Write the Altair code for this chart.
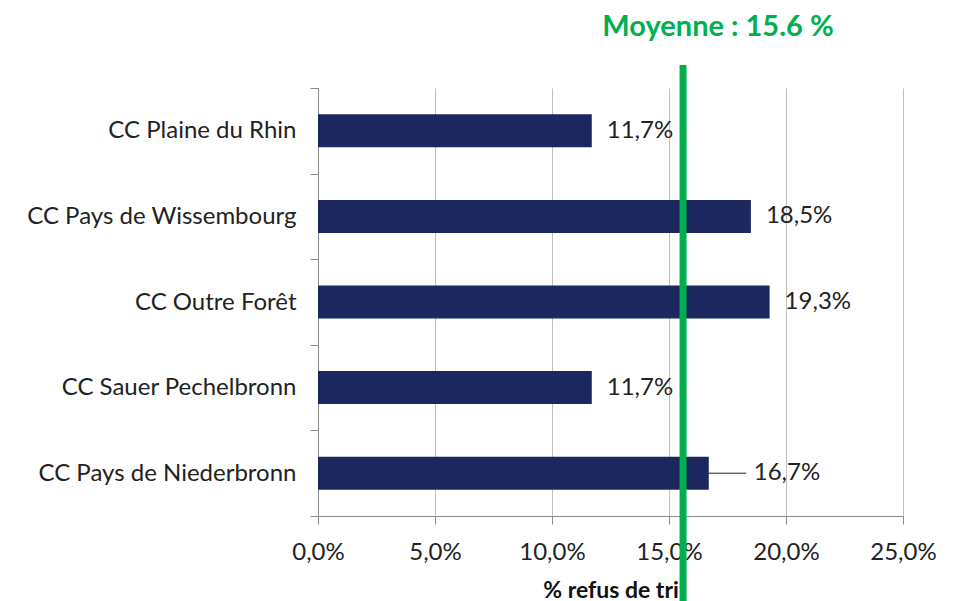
import altair as alt
import pandas as pd

categories = ["CC Plaine du Rhin", "CC Pays de Wissembourg", "CC Outre Forêt",
              "CC Sauer Pechelbronn", "CC Pays de Niederbronn"]
values = [11.7, 18.5, 19.3, 11.7, 16.7]
labels = ["11,7%", "18,5%", "19,3%", "11,7%", "16,7%"]
leader = [False, False, False, False, True]
mean_value = [15.6]
mean_text = ["Moyenne : 15.6 %"]
x_ticks = [0, 5, 10, 15, 20, 25]

df = pd.DataFrame({"cat": categories, "val": values, "lab": labels, "leader": leader})
mean_df = pd.DataFrame({"m": mean_value, "t": mean_text})

FONT = "Lato"
W, H = 585, 428

y_scale = alt.Scale(paddingInner=0, paddingOuter=0)
y_enc = alt.Y("cat:N", sort=categories, title=None, scale=y_scale,
              axis=alt.Axis(tickBand="extent", labelFont=FONT, labelFontSize=24,
                            labelColor="#222222", labelPadding=14, tickSize=8,
                            tickColor="#8C8C8C", domainColor="#8C8C8C", grid=False,
                            labelLimit=400))
x_scale = alt.Scale(domain=[0, 25], nice=False)
x_enc = alt.X("val:Q", scale=x_scale, title="% refus de tri",
              axis=alt.Axis(values=x_ticks,
                            labelExpr="replace(format(datum.value, '.1f'), '.', ',') + '%'",
                            labelFont=FONT, labelFontSize=24, labelColor="#222222",
                            labelFlush=False, labelPadding=16, tickSize=8,
                            tickColor="#8C8C8C", domainColor="#8C8C8C",
                            gridColor="#BFBFBF", grid=True,
                            titleFont=FONT, titleFontSize=23, titleFontWeight="bold",
                            titleColor="#111111", titlePadding=15))

y_plain = alt.Y("cat:N", sort=categories, scale=y_scale)

bars = alt.Chart(df).mark_bar(color="#1B275E", height=33).encode(x=x_enc, y=y_enc)

text_main = alt.Chart(df).transform_filter("!datum.leader").mark_text(
    align="left", baseline="middle", dx=15, font=FONT, fontSize=24, color="#222222"
).encode(x=alt.X("val:Q", scale=x_scale), y=y_plain, text="lab:N")

text_lead = alt.Chart(df).transform_filter("datum.leader").mark_text(
    align="left", baseline="middle", dx=45, font=FONT, fontSize=24, color="#222222"
).encode(x=alt.X("val:Q", scale=x_scale), y=y_plain, text="lab:N")

lead_line = alt.Chart(df).transform_filter("datum.leader").transform_calculate(
    x2v="datum.val + 1.6"
).mark_rule(color="#222222", strokeWidth=1).encode(
    x=alt.X("val:Q", scale=x_scale), x2="x2v:Q", y=y_plain)

mean_rule = alt.Chart(mean_df).mark_rule(color="#00B050", strokeWidth=7, clip=False).encode(
    x=alt.X("m:Q", scale=x_scale), y=alt.value(-23), y2=alt.value(H + 100))

mean_label = alt.Chart(mean_df).mark_text(
    font=FONT, fontSize=29, fontWeight="bold", color="#00B050", align="center",
    baseline="middle", dx=35
).encode(x=alt.X("m:Q", scale=x_scale), y=alt.value(-61), text="t:N")

chart = alt.layer(bars, lead_line, text_main, text_lead, mean_rule, mean_label).properties(
    width=W, height=H,
    padding={"left": 310, "top": 80, "right": 40, "bottom": 90},
    autosize=alt.AutoSizeParams(type="none"),
).configure_view(stroke=None)

chart.save("out.html", embed_options={"renderer": "svg", "actions": False})
